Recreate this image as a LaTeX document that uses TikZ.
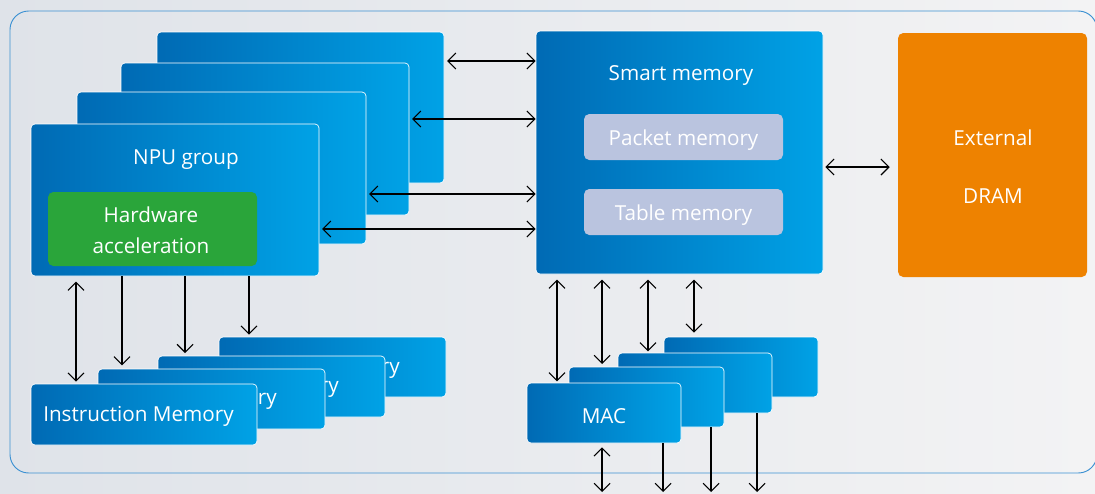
\documentclass[tikz,border=0pt]{standalone}
\usepackage{fontspec}
\setmainfont{Open Sans}
\usetikzlibrary{arrows.meta,fit}
\definecolor{blueL}{RGB}{0,106,180}
\definecolor{blueR}{RGB}{0,162,230}
\definecolor{bgL}{RGB}{223,227,233}
\definecolor{bgR}{RGB}{243,243,244}
\definecolor{frameC}{RGB}{60,145,210}
\definecolor{greenC}{RGB}{42,165,58}
\definecolor{lavC}{RGB}{186,196,223}
\definecolor{orangeC}{RGB}{238,130,0}
\tikzset{
  blu/.style={rounded corners=3pt, draw=white, line width=0.5pt, left color=blueL, right color=blueR, inner sep=0pt},
  flatbox/.style={rounded corners=4pt, inner sep=0pt},
  lbl/.style={text=white, font=\fontsize{15.5}{18}\selectfont, inner sep=0pt, yshift=-2pt},
  dbl/.style={line width=0.8pt, {Straight Barb[length=6pt,width=12pt]}-{Straight Barb[length=6pt,width=12pt]}},
  one/.style={line width=0.8pt, -{Straight Barb[length=6pt,width=12pt]}},
}
\begin{document}
\begin{tikzpicture}[x=0.75pt,y=-0.75pt]
\useasboundingbox (0,0) rectangle (1095,493);
\shade[left color=bgL, right color=bgR] (0,0) rectangle (1095,493);
\draw[frameC, line width=0.7pt, rounded corners=14pt] (10,11) rectangle (1097,473);

% NPU stack
\node[blu, fit={(157,32)(444,183)}] (npuD) {};
\node[blu, fit={(121,63)(409,215)}] (npuC) {};
\node[blu, fit={(77,92)(366,244)}] (npuB) {};
\node[blu, fit={(31,124)(319,276)}] (npuA) {};
\node[lbl] (npuT) at (186,157) {NPU group};
\node[flatbox, fill=greenC, fit={(48,192)(257,266)}] (hw) {};
\node[lbl] (hwT1) at (151,212) {Hardware};
\node[lbl] (hwT2) at (151,243) {acceleration};

% Smart memory
\node[blu, fit={(536,31)(823,274)}] (smart) {};
\node[lbl] (smartT) at (681,73) {Smart memory};
\node[flatbox, fill=lavC, fit={(584,114)(783,160)}] (pkt) {};
\node[lbl] at (pkt.center) {Packet memory};
\node[flatbox, fill=lavC, fit={(584,189)(783,235)}] (tbl) {};
\node[lbl] at (tbl.center) {Table memory};

% External DRAM
\node[flatbox, fill=orangeC, fit={(898,33)(1087,277)}] (dram) {};
\node[lbl] (dramT1) at (993,135) {External};
\node[lbl] (dramT2) at (993,193) {DRAM};

% Instruction memory stack (back copies show only their last letters)
\node[blu, fit={(219,337)(446,397)}] (imD) {};
\node[lbl, anchor=east] (imDT) at (400,368) {ry};
\node[blu, fit={(158,356)(385,417)}] (imC) {};
\node[lbl, anchor=east] (imCT) at (339,387) {ry};
\node[blu, fit={(98,369)(325,429)}] (imB) {};
\node[lbl, anchor=east] (imBT) at (277,399) {ry};
\node[blu, fit={(31,384)(257,445)}] (imA) {};
\node[lbl, anchor=west] (imAT) at (43,414) {Instruction Memory};

% MAC stack
\node[blu, fit={(664,337)(818,397)}] (macD) {};
\node[blu, fit={(618,353)(772,413)}] (macC) {};
\node[blu, fit={(569,367)(724,427)}] (macB) {};
\node[blu, fit={(527,383)(681,443)}] (macA) {};
\node[lbl] (macT) at (604,413) {MAC};

% bottom free ends
\coordinate (b1) at (602,492);
\coordinate (b2) at (663,492);
\coordinate (b3) at (711,492);
\coordinate (b4) at (757,492);

% NPU <-> smart memory
\draw[dbl] ([xshift=2pt]npuD.east |- 0,61) -- (smart.west |- 0,61);
\draw[dbl] ([xshift=2pt]npuC.east |- 0,119) -- (smart.west |- 0,119);
\draw[dbl] ([xshift=2pt]npuB.east |- 0,194) -- (smart.west |- 0,194);
\draw[dbl] ([xshift=2pt]npuA.east |- 0,229) -- (smart.west |- 0,229);

% smart <-> dram
\draw[dbl] ([xshift=1.5pt]smart.east |- 0,167) -- ([xshift=-6pt]dram.west |- 0,167);

% NPU -> instruction memories
\draw[dbl] ([yshift=-4pt]npuA.south -| 76,0) -- ([yshift=1.5pt]imA.north -| 76,0);
\draw[one] (npuA.south -| 122,0) -- ([yshift=2.5pt]imB.north -| 122,0);
\draw[one] (npuA.south -| 185,0) -- ([yshift=2pt]imC.north -| 185,0);
\draw[one] (npuA.south -| 249,0) -- ([yshift=1.5pt]imD.north -| 249,0);

% smart <-> MACs
\draw[dbl] ([yshift=-4pt]smart.south -| 557,0) -- ([yshift=1pt]macA.north -| 557,0);
\draw[dbl] ([yshift=-4pt]smart.south -| 602,0) -- ([yshift=2pt]macB.north -| 602,0);
\draw[dbl] ([yshift=-4pt]smart.south -| 648,0) -- ([yshift=1pt]macC.north -| 648,0);
\draw[dbl] ([yshift=-4pt]smart.south -| 694,0) -- ([yshift=3pt]macD.north -| 694,0);

% MACs to outside
\draw[dbl] ([yshift=-3pt]macA.south -| b1) -- (b1);
\draw[one] (macA.south -| b2) -- (b2);
\draw[one] (macB.south -| b3) -- (b3);
\draw[one] (macC.south -| b4) -- (b4);
\end{tikzpicture}
\end{document}
